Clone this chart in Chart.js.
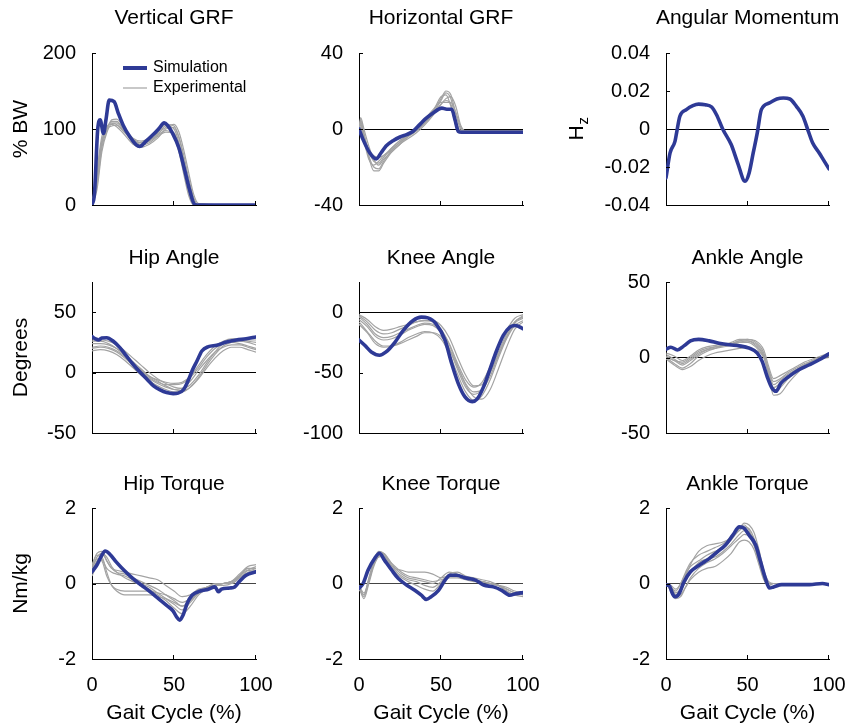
<!DOCTYPE html>
<html>
<head>
<meta charset="utf-8">
<script src="https://cdn.jsdelivr.net/npm/chart.js@4.4.1/dist/chart.umd.min.js"></script>
<style>
  html, body { margin: 0; padding: 0; background: #fff; }
  #wrap { position: relative; width: 848px; height: 727px; overflow: hidden; }
  #wrap canvas { position: absolute; }
</style>
</head>
<body>
<div id="wrap"></div>
<script>
// ---- data (gait cycle %) ----

// Vertical GRF (% BW)
const vgrfSimPct = [0, 1.5, 3.5, 5, 7, 8.5, 10.5, 13.5, 16, 19, 23, 27, 29, 33, 37, 41, 44, 46, 49, 53, 56.5, 59.5, 62.5, 65, 80, 100];
const vgrfSim = [0, 15, 100, 112, 94, 112, 138, 136, 121, 105, 90, 79, 77, 84, 92, 101, 108, 105, 95, 75, 46, 20, 1, 0, 0, 0];
const vgrfExpPct = [0, 3, 6, 9, 12, 15, 20, 25, 30, 35, 40, 45, 50, 53, 56, 59, 62, 65, 100];
const vgrfExp = [
    [0, 40, 85, 102, 108, 106, 95, 85, 82, 86, 92, 98, 90, 70, 40, 12, 0, 0, 0],
    [0, 30, 80, 100, 110, 110, 98, 86, 80, 84, 92, 104, 100, 82, 52, 20, 3, 0, 0],
    [0, 45, 90, 104, 106, 103, 92, 80, 76, 80, 88, 100, 102, 88, 60, 28, 6, 0, 0],
    [0, 25, 75, 98, 112, 113, 100, 88, 84, 88, 96, 106, 104, 90, 65, 35, 10, 0, 0],
    [0, 35, 82, 100, 104, 105, 96, 84, 79, 82, 90, 96, 95, 78, 48, 16, 1, 0, 0],
    [0, 20, 70, 95, 107, 108, 97, 87, 82, 85, 94, 102, 106, 96, 72, 42, 14, 2, 0],
];

// Horizontal GRF (% BW)
const hgrfSimPct = [0, 2.5, 6.5, 10.5, 13.5, 16.5, 21, 25, 29, 33, 37, 41, 45, 50.5, 53.5, 56.5, 58.5, 60.5, 62.5, 100];
const hgrfSim = [0, -5.6, -12.5, -15.7, -12.5, -9, -6, -4.2, -3, -1.2, 2.3, 5.7, 8.3, 11, 10.4, 10.4, 5, -1.2, -1.7, -1.7];
const hgrfExpPct = [0, 1, 3, 6, 9, 12, 15, 20, 25, 30, 35, 40, 45, 50, 53, 56, 59, 62, 65, 100];
const hgrfExp = [
    [0, 5, -2, -14, -20, -21, -17, -11, -7, -4, -1, 3, 8, 15, 19, 16, 5, -1, -1, -1],
    [0, 3, -4, -12, -17, -18, -15, -10, -6, -3, 0, 4, 9, 16, 20, 18, 8, 0, -1, -1],
    [0, 2, -5, -15, -22, -22, -18, -12, -8, -5, -2, 2, 7, 13, 16, 17, 12, 2, -1, -1],
    [0, 4, -3, -11, -14, -15, -14, -10, -6, -3, 0, 3, 8, 13, 15, 13, 4, -1, -1, -1],
    [0, 6, 0, -9, -16, -19, -16, -12, -8, -4, -1, 3, 9, 17, 18, 12, 2, -1, -1, -1],
    [0, 1, -6, -16, -19, -17, -14, -11, -7, -3, 0, 5, 10, 14, 14, 14, 9, 1, -1, -1],
];

// Angular momentum (Hz)
const amSimPct = [0, 2.5, 5.5, 6.5, 8.5, 12.5, 16.5, 20, 24, 28, 31, 35, 40, 44, 48.5, 51, 53.5, 56, 58.5, 63.5, 68, 72, 76, 80, 84, 87, 90, 94, 96.5, 100];
const amSim = [-0.0257, -0.0126, -0.0065, -0.002, 0.0067, 0.0102, 0.0123, 0.0131, 0.0128, 0.0116, 0.0075, -0.0004, -0.0082, -0.0179, -0.0275, -0.0231, -0.0126, -0.002, 0.0102, 0.0137, 0.0158, 0.0163, 0.0158, 0.0119, 0.0067, -0.0004, -0.0074, -0.0126, -0.0161, -0.021];

// Hip angle (deg)
const hipSimPct = [0, 2, 4, 6, 9, 13, 17, 21, 25, 29.5, 33.5, 37.5, 41.5, 45.5, 49.5, 52.5, 56, 59, 61, 64, 67, 71, 76, 82, 88, 94, 100];
const hipSim = [29.8, 28, 27, 28.6, 28.9, 26, 20.7, 13.8, 6.9, 0, -5.5, -11, -14.3, -16.5, -17.4, -17, -13.8, -5.5, 1.4, 9.6, 17.9, 21.5, 22.6, 25.3, 27, 28, 29.5];
const hipExpPct = [0, 5, 10, 15, 20, 25, 30, 35, 40, 45, 50, 55, 60, 65, 70, 75, 80, 85, 90, 95, 100];
const hipExp = [
    [27, 27, 26, 23, 18, 12, 6, 0, -5, -9, -12, -13, -10, -2, 8, 17, 24, 27, 27, 26, 25],
    [24, 24, 23, 20, 15, 9, 3, -3, -7, -11, -14, -15, -12, -4, 6, 15, 22, 25, 26, 25, 23],
    [21, 22, 21, 18, 13, 7, 1, -4, -8, -10, -10, -9, -4, 4, 13, 20, 24, 25, 24, 22, 20],
    [18, 19, 18, 15, 10, 4, -2, -7, -11, -14, -16, -16, -12, -5, 4, 12, 18, 21, 21, 19, 17],
    [26, 26, 24, 20, 14, 8, 2, -3, -6, -8, -9, -8, -3, 6, 15, 22, 26, 28, 28, 27, 27],
    [20, 21, 20, 17, 12, 6, 0, -5, -9, -12, -14, -13, -7, 2, 10, 17, 21, 23, 23, 21, 19],
];

// Knee angle (deg)
const kneeSimPct = [0, 3.5, 7.5, 12.5, 16.5, 22, 27, 33, 38, 42, 47, 52.5, 56.5, 60.5, 64.5, 69, 72, 76, 80, 84, 88, 92, 95.5, 100];
const kneeSim = [-23, -27.4, -32.9, -35.6, -32.9, -24.7, -15, -6.8, -4.1, -4.7, -9.6, -23.3, -42.5, -58.9, -69.9, -74, -72, -61.6, -46.6, -31.5, -19.2, -12.3, -11, -13.7];
const kneeExpPct = [0, 5, 10, 15, 20, 25, 30, 35, 40, 45, 50, 55, 60, 65, 70, 75, 80, 85, 90, 95, 100];
const kneeExp = [
    [-3, -8, -15, -18, -17, -14, -11, -8, -7, -8, -14, -26, -42, -56, -62, -58, -45, -29, -15, -5, -2],
    [-6, -12, -20, -23, -22, -19, -15, -12, -10, -11, -17, -30, -47, -62, -68, -64, -50, -33, -18, -8, -4],
    [-10, -17, -26, -29, -28, -25, -21, -18, -16, -17, -22, -34, -51, -66, -73, -69, -56, -38, -22, -11, -7],
    [-2, -6, -12, -15, -14, -12, -10, -8, -7, -7, -11, -21, -37, -52, -61, -60, -50, -35, -20, -8, -3],
    [-8, -16, -24, -28, -28, -26, -23, -20, -17, -17, -20, -30, -45, -60, -70, -72, -64, -47, -29, -14, -8],
    [-4, -10, -18, -21, -20, -17, -14, -11, -9, -10, -15, -27, -44, -59, -66, -64, -53, -36, -21, -9, -5],
];

// Ankle angle (deg)
const ankleSimPct = [0, 3, 7, 11, 15, 20, 26.5, 32.5, 39, 45, 51, 56, 59, 62, 65, 67.5, 70.5, 75.5, 81.5, 88, 94, 100];
const ankleSim = [5.5, 6.8, 5, 7.7, 11, 12, 11, 9.5, 8.4, 7.7, 6.2, 2.9, -2.6, -12.5, -20.2, -22.4, -17, -12.5, -8.1, -4.8, -1.5, 2.4];
const ankleExpPct = [0, 5, 10, 15, 20, 25, 30, 35, 40, 45, 50, 55, 60, 63, 66, 70, 75, 80, 85, 90, 95, 100];
const ankleExp = [
    [2, -1, -4, -1, 3, 5, 6, 7, 8, 10, 11, 9, 2, -8, -16, -14, -10, -7, -4, -2, 0, 1],
    [0, -4, -7, -4, 1, 4, 6, 8, 9, 11, 12, 10, 3, -10, -22, -20, -14, -9, -5, -2, 0, 2],
    [3, 1, -2, 1, 5, 7, 8, 9, 9, 10, 10, 7, 0, -9, -18, -15, -11, -8, -5, -3, -1, 0],
    [-1, -5, -8, -6, -2, 1, 3, 4, 5, 6, 7, 5, 0, -12, -25, -24, -17, -11, -6, -3, -1, 1],
    [1, -2, -3, 0, 4, 6, 7, 8, 10, 12, 12, 11, 5, -6, -14, -12, -9, -6, -3, -1, 1, 3],
    [0, -2, -5, -2, 2, 5, 7, 8, 9, 11, 11, 8, 1, -10, -20, -17, -12, -8, -5, -2, 0, 1],
];

// Hip torque (Nm/kg)
const hipTqSimPct = [0, 3, 6, 8, 11, 15, 20, 25, 30, 35.5, 40.5, 45.5, 49.5, 51.5, 53.5, 55.5, 58, 61, 66, 71, 75, 77, 79, 84, 87, 90, 94, 100];
const hipTqSim = [0.31, 0.49, 0.75, 0.86, 0.77, 0.56, 0.33, 0.13, -0.04, -0.22, -0.4, -0.58, -0.73, -0.88, -0.97, -0.84, -0.53, -0.31, -0.2, -0.15, -0.09, -0.22, -0.15, -0.12, -0.09, 0.06, 0.22, 0.31];
const hipTqExpPct = [0, 3, 6, 9, 12, 15, 20, 25, 30, 35, 40, 45, 50, 55, 60, 65, 70, 75, 80, 85, 90, 95, 100];
const hipTqExp = [
    [0.4, 0.7, 0.8, 0.6, 0.4, 0.35, 0.3, 0.25, 0.2, 0.15, 0.1, -0.05, -0.2, -0.35, -0.3, -0.15, -0.1, -0.05, 0, 0.05, 0.2, 0.4, 0.4],
    [0.3, 0.6, 0.7, 0.3, -0.05, -0.15, -0.2, -0.2, -0.2, -0.2, -0.25, -0.3, -0.4, -0.5, -0.4, -0.2, -0.1, -0.05, 0, 0, 0.15, 0.35, 0.45],
    [0.5, 0.75, 0.65, 0.4, 0.3, 0.25, 0.2, 0.1, 0, -0.1, -0.25, -0.4, -0.55, -0.7, -0.5, -0.25, -0.1, -0.05, -0.05, 0, 0.2, 0.4, 0.35],
    [0.2, 0.5, 0.8, 0.7, 0.45, 0.3, 0.15, 0.05, -0.05, -0.15, -0.3, -0.45, -0.65, -0.8, -0.6, -0.3, -0.15, -0.05, 0, 0.05, 0.25, 0.45, 0.5],
    [0.35, 0.65, 0.6, 0.2, -0.05, -0.2, -0.3, -0.3, -0.3, -0.3, -0.35, -0.4, -0.5, -0.6, -0.45, -0.25, -0.1, 0, 0, 0.05, 0.2, 0.35, 0.3],
    [0.45, 0.8, 0.85, 0.6, 0.4, 0.3, 0.25, 0.15, 0.05, -0.05, -0.15, -0.3, -0.45, -0.6, -0.45, -0.2, -0.1, -0.05, 0, 0.05, 0.15, 0.3, 0.35],
];

// Knee torque (Nm/kg)
const kneeTqSimPct = [0, 2.5, 5.5, 9.5, 12.5, 15.5, 20, 24, 29, 34, 38, 41, 44, 48.5, 52.5, 55.5, 59.5, 64.5, 71, 76, 82, 87, 92, 95.5, 100];
const kneeTqSim = [-0.13, 0, 0.35, 0.66, 0.8, 0.62, 0.35, 0.13, -0.04, -0.18, -0.31, -0.42, -0.35, -0.18, 0.09, 0.22, 0.22, 0.15, 0.09, -0.04, -0.09, -0.18, -0.31, -0.27, -0.24];
const kneeTqExpPct = [0, 3, 6, 9, 12, 15, 18, 22, 26, 30, 35, 40, 45, 50, 55, 60, 65, 70, 75, 80, 85, 90, 95, 100];
const kneeTqExp = [
    [-0.1, -0.35, 0.1, 0.55, 0.8, 0.75, 0.55, 0.4, 0.35, 0.3, 0.3, 0.3, 0.25, 0.15, 0.2, 0.2, 0.15, 0.1, 0.05, 0, -0.05, -0.15, -0.25, -0.3],
    [-0.05, -0.3, 0.05, 0.5, 0.75, 0.8, 0.65, 0.4, 0.25, 0.15, 0.1, 0.05, 0, 0.15, 0.3, 0.25, 0.15, 0.1, 0.05, 0, -0.05, -0.2, -0.3, -0.35],
    [-0.1, -0.4, 0, 0.45, 0.7, 0.72, 0.55, 0.3, 0.15, 0.05, -0.05, -0.15, -0.2, 0, 0.2, 0.2, 0.15, 0.1, 0.05, 0, -0.05, -0.15, -0.25, -0.3],
    [-0.15, -0.3, 0.15, 0.6, 0.85, 0.8, 0.6, 0.35, 0.2, 0.1, 0.05, -0.05, -0.1, 0.05, 0.25, 0.3, 0.2, 0.15, 0.1, 0.05, -0.05, -0.2, -0.3, -0.25],
    [-0.05, -0.25, 0.1, 0.5, 0.72, 0.78, 0.62, 0.45, 0.3, 0.2, 0.15, 0.1, 0.05, 0.1, 0.15, 0.15, 0.1, 0.05, 0.05, 0, -0.05, -0.1, -0.2, -0.25],
];

// Ankle torque (Nm/kg)
const ankleTqSimPct = [0, 2, 4, 5.5, 8, 11, 15, 20.5, 26.5, 31.5, 36.5, 41, 45, 48, 51, 55, 58, 61, 63.5, 66, 71, 78, 88, 96, 100];
const ankleTqSim = [-0.04, -0.06, -0.27, -0.35, -0.27, 0.04, 0.31, 0.49, 0.66, 0.84, 1.02, 1.28, 1.5, 1.46, 1.28, 1.02, 0.58, 0.13, -0.12, -0.09, -0.03, -0.03, -0.03, 0, -0.03];
const ankleTqExpPct = [0, 3, 6, 9, 12, 15, 20, 25, 30, 35, 40, 45, 48, 51, 54, 57, 60, 63, 66, 70, 100];
const ankleTqExp = [
    [0, -0.1, -0.25, -0.15, 0.2, 0.5, 0.85, 1.0, 1.05, 1.1, 1.2, 1.4, 1.5, 1.45, 1.2, 0.7, 0.2, 0, 0, 0, 0],
    [0, -0.15, -0.35, -0.3, -0.1, 0.1, 0.3, 0.4, 0.45, 0.6, 0.8, 1.1, 1.15, 1.1, 0.9, 0.5, 0.1, -0.05, 0, 0, 0],
    [0, -0.1, -0.2, 0, 0.25, 0.45, 0.6, 0.75, 0.85, 0.95, 1.15, 1.45, 1.6, 1.55, 1.35, 0.9, 0.35, 0.05, 0, 0, 0],
    [0, -0.2, -0.4, -0.35, -0.1, 0.15, 0.4, 0.55, 0.65, 0.8, 1.0, 1.2, 1.3, 1.25, 1.0, 0.55, 0.15, -0.05, 0, 0, 0],
    [0, -0.05, -0.15, 0, 0.3, 0.55, 0.75, 0.85, 0.95, 1.05, 1.25, 1.5, 1.55, 1.4, 1.1, 0.6, 0.15, 0, 0, 0, 0],
    [0, -0.1, -0.3, -0.2, 0.05, 0.3, 0.55, 0.65, 0.7, 0.85, 1.05, 1.3, 1.4, 1.35, 1.15, 0.75, 0.25, 0, 0, 0, 0],
];

const xTicks = [0, 50, 100];

// ---- layout ----
const FONT = '"Liberation Sans", Arial, Helvetica, sans-serif';
const BLUE = '#2e3a96';
const GRAY = '#a3a3a3';

const cols = [
    { left: 0, right: 280, plotL: 92, plotR: 256, yTitleOff: 71 },
    { left: 280, right: 560, plotL: 359, plotR: 523, yTitleOff: 71 },
    { left: 560, right: 848, plotL: 666, plotR: 829, yTitleOff: 89 },
];
const rows = [
    { top: 0, bottom: 236, plotT: 53, plotB: 205, titleY: 18 },
    { top: 236, bottom: 462, plotT: 282, plotB: 433, titleY: 258 },
    { top: 462, bottom: 727, plotT: 508, plotB: 659, titleY: 484 },
];

const panels = [
    { title: 'Vertical GRF', yTitle: '% BW', min: 0, max: 200, yTicks: [0, 100, 200], simPct: vgrfSimPct, sim: vgrfSim, expPct: vgrfExpPct, exp: vgrfExp, legend: true, zero: false },
    { title: 'Horizontal GRF', min: -40, max: 40, yTicks: [-40, 0, 40], simPct: hgrfSimPct, sim: hgrfSim, expPct: hgrfExpPct, exp: hgrfExp },
    { title: 'Angular Momentum', yTitle: 'H', ySub: 'z', min: -0.04, max: 0.04, yTicks: [-0.04, -0.02, 0, 0.02, 0.04], simPct: amSimPct, sim: amSim, expPct: [], exp: [] },
    { title: 'Hip Angle', yTitle: 'Degrees', min: -50, max: 75, yTicks: [-50, 0, 50], simPct: hipSimPct, sim: hipSim, expPct: hipExpPct, exp: hipExp },
    { title: 'Knee Angle', min: -100, max: 25, yTicks: [-100, -50, 0], simPct: kneeSimPct, sim: kneeSim, expPct: kneeExpPct, exp: kneeExp },
    { title: 'Ankle Angle', min: -50, max: 50, yTicks: [-50, 0, 50], simPct: ankleSimPct, sim: ankleSim, expPct: ankleExpPct, exp: ankleExp },
    { title: 'Hip Torque', yTitle: 'Nm/kg', min: -2, max: 2, yTicks: [-2, 0, 2], simPct: hipTqSimPct, sim: hipTqSim, expPct: hipTqExpPct, exp: hipTqExp, zeroColor: '#444' },
    { title: 'Knee Torque', min: -2, max: 2, yTicks: [-2, 0, 2], simPct: kneeTqSimPct, sim: kneeTqSim, expPct: kneeTqExpPct, exp: kneeTqExp, zeroColor: '#444' },
    { title: 'Ankle Torque', min: -2, max: 2, yTicks: [-2, 0, 2], simPct: ankleTqSimPct, sim: ankleTqSim, expPct: ankleTqExpPct, exp: ankleTqExp, zeroColor: '#444' },
];

const toPoints = (xs, ys) => ys.map((y, i) => ({ x: xs[i], y }));

// titles, axis titles, inward tick marks and legend
const deco = {
    id: 'deco',
    afterDraw(chart, args, o) {
        const { ctx, chartArea: a } = chart;
        const xs = chart.scales.x, ys = chart.scales.y;
        ctx.save();
        ctx.strokeStyle = '#000';
        ctx.lineWidth = 1;
        ctx.beginPath();
        xTicks.slice(1).forEach((v) => {
            const px = Math.round(xs.getPixelForValue(v)) - 0.5;
            ctx.moveTo(px, a.bottom);
            ctx.lineTo(px, a.bottom - 4);
        });
        ys.ticks.forEach((t) => {
            const py = Math.round(ys.getPixelForValue(t.value)) + 0.5;
            ctx.moveTo(a.left, py);
            ctx.lineTo(a.left + 4, py);
        });
        ctx.stroke();

        ctx.fillStyle = '#000';
        ctx.textAlign = 'center';
        ctx.textBaseline = 'middle';
        ctx.font = '21px ' + FONT;
        ctx.fillText(o.title, (a.left + a.right) / 2, o.titleY);

        if (o.xTitle) {
            ctx.fillText(o.xTitle, (a.left + a.right) / 2, o.xTitleY);
        }

        if (o.yTitle) {
            ctx.save();
            ctx.translate(a.left - o.yTitleOff, (a.top + a.bottom) / 2);
            ctx.rotate(-Math.PI / 2);
            if (o.ySub) {
                const w = ctx.measureText(o.yTitle).width;
                ctx.textAlign = 'left';
                ctx.fillText(o.yTitle, -w / 2 - 4, 0);
                ctx.font = '15px ' + FONT;
                ctx.fillText(o.ySub, w / 2 - 3, 7);
            } else {
                ctx.fillText(o.yTitle, 0, 0);
            }
            ctx.restore();
        }

        if (o.legend) {
            const lx = a.left + 31, ly1 = a.top + 15, ly2 = a.top + 35;
            ctx.lineCap = 'butt';
            ctx.strokeStyle = BLUE;
            ctx.lineWidth = 4;
            ctx.beginPath(); ctx.moveTo(lx, ly1); ctx.lineTo(lx + 24, ly1); ctx.stroke();
            ctx.strokeStyle = GRAY;
            ctx.lineWidth = 1.2;
            ctx.beginPath(); ctx.moveTo(lx, ly2); ctx.lineTo(lx + 24, ly2); ctx.stroke();
            ctx.font = '16px ' + FONT;
            ctx.textAlign = 'left';
            ctx.fillText('Simulation', lx + 30, ly1);
            ctx.fillText('Experimental', lx + 30, ly2);
        }
        ctx.restore();
    },
};

const wrap = document.getElementById('wrap');

panels.forEach((p, i) => {
    const col = cols[i % 3];
    const row = rows[Math.floor(i / 3)];
    const bottomRow = i >= 6;

    const canvas = document.createElement('canvas');
    canvas.width = col.right - col.left;
    canvas.height = row.bottom - row.top;
    canvas.style.left = col.left + 'px';
    canvas.style.top = row.top + 'px';
    wrap.appendChild(canvas);

    const datasets = [{
        data: toPoints(p.simPct, p.sim),
        borderColor: BLUE,
        borderWidth: 3.6,
        borderCapStyle: 'round',
        borderJoinStyle: 'round',
        order: 0,
    }];
    p.exp.forEach((series) => {
        datasets.push({
            data: toPoints(p.expPct, series),
            borderColor: GRAY,
            borderWidth: 1.2,
            order: 1,
        });
    });

    new Chart(canvas, {
        type: 'line',
        data: { datasets },
        options: {
            responsive: false,
            animation: false,
            events: [],
            devicePixelRatio: 1,
            layout: {
                autoPadding: false,
                padding: { left: 0, right: col.right - col.plotR, top: row.plotT - row.top, bottom: 0 },
            },
            elements: {
                point: { radius: 0 },
                line: { cubicInterpolationMode: 'monotone', fill: false },
            },
            plugins: {
                legend: { display: false },
                tooltip: { enabled: false },
                deco: {
                    title: p.title,
                    titleY: row.titleY - row.top,
                    yTitle: p.yTitle,
                    ySub: p.ySub,
                    yTitleOff: col.yTitleOff,
                    legend: !!p.legend,
                    xTitle: bottomRow ? 'Gait Cycle (%)' : null,
                    xTitleY: 713 - row.top,
                },
            },
            scales: {
                x: {
                    type: 'linear',
                    min: 0,
                    max: 100,
                    afterBuildTicks: (s) => { s.ticks = xTicks.map((v) => ({ value: v })); },
                    afterFit: (s) => {
                        s.height = row.bottom - row.plotB;
                        s.paddingLeft = 0;
                        s.paddingRight = 0;
                    },
                    grid: { display: false, drawTicks: false },
                    border: { display: true, color: '#000', width: 1 },
                    ticks: {
                        display: bottomRow,
                        autoSkip: false,
                        maxRotation: 0,
                        padding: 14,
                        color: '#000',
                        font: { family: FONT, size: 20 },
                    },
                },
                y: {
                    type: 'linear',
                    min: p.min,
                    max: p.max,
                    afterBuildTicks: (s) => { s.ticks = p.yTicks.map((v) => ({ value: v })); },
                    afterFit: (s) => {
                        s.width = col.plotL - col.left;
                        s.paddingTop = 0;
                        s.paddingBottom = 0;
                    },
                    grid: {
                        drawTicks: false,
                        lineWidth: 1,
                        color: (ctx) => (ctx.tick && ctx.tick.value === 0 && p.zero !== false ? (p.zeroColor || '#000') : 'rgba(0,0,0,0)'),
                    },
                    border: { display: true, color: '#000', width: 1 },
                    ticks: {
                        padding: 16,
                        color: '#000',
                        font: { family: FONT, size: 20 },
                        callback: (v) => String(v),
                    },
                },
            },
        },
        plugins: [deco],
    });
});
</script>
</body>
</html>
